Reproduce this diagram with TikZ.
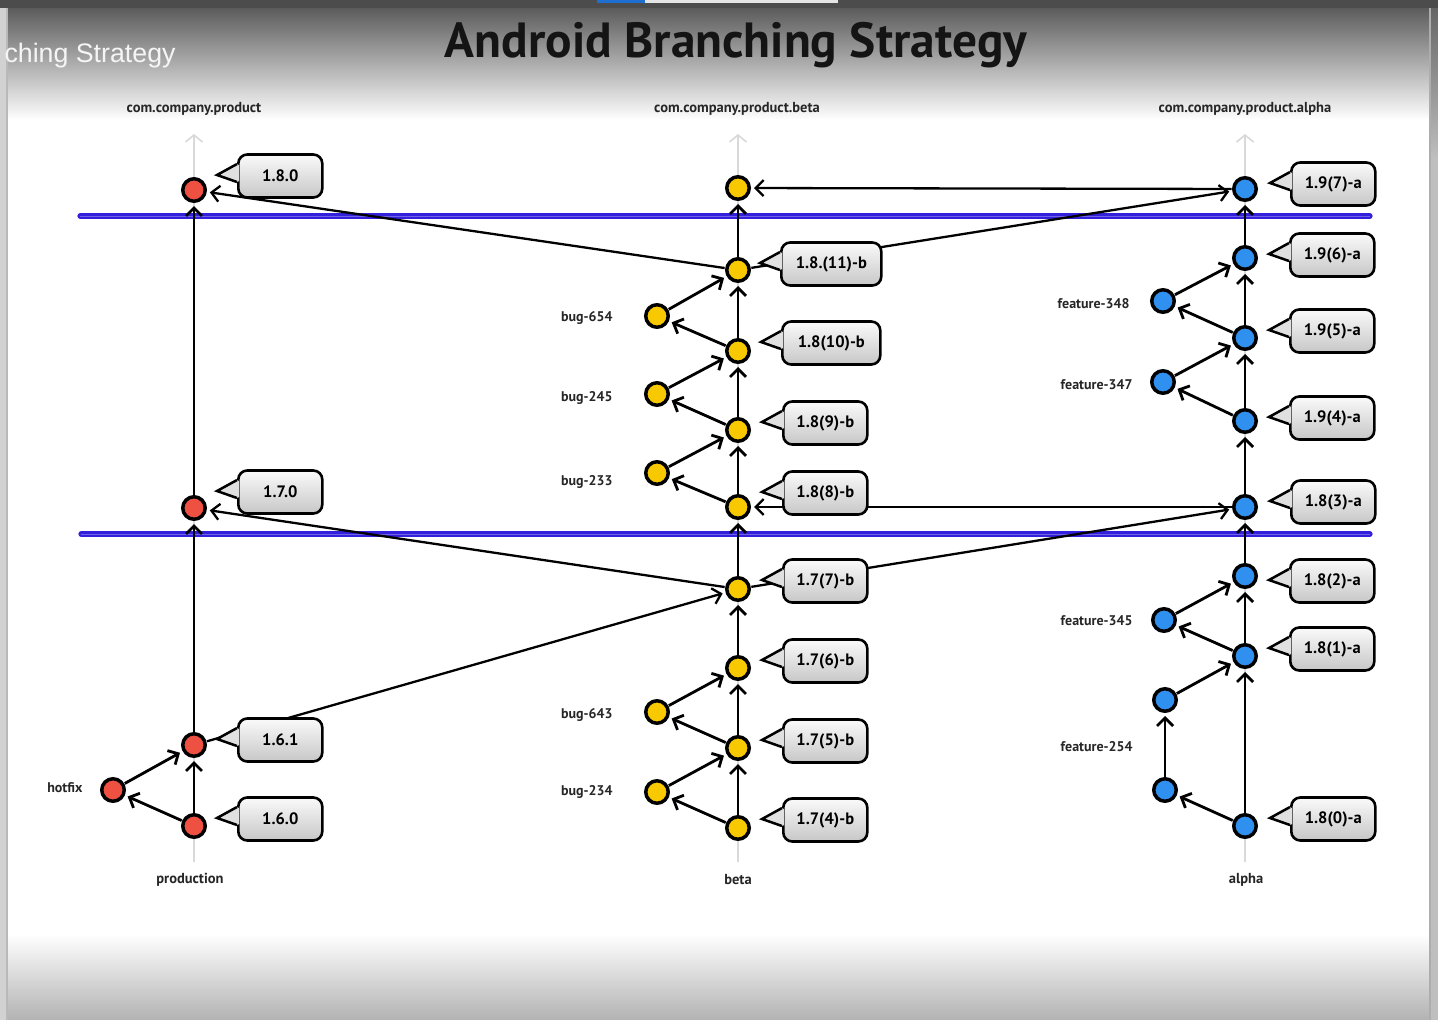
\documentclass[tikz,border=0pt]{standalone}
\usepackage{fontspec}
\setmainfont{PT Sans}
\newfontfamily\overlayfont{Liberation Sans}
\usetikzlibrary{arrows.meta,calc}
\definecolor{cred}{HTML}{EE5042}
\definecolor{cyel}{HTML}{F8C800}
\definecolor{cblu}{HTML}{3090F0}
\definecolor{cmark}{HTML}{3320DC}
\definecolor{frame}{HTML}{4C4C4C}
\definecolor{ytblue}{HTML}{1E6FD0}
\tikzset{
  dot/.style={circle,minimum size=22.5pt,inner sep=0pt,draw=black,line width=3.5pt},
  dotR/.style={dot,fill=cred},
  dotY/.style={dot,fill=cyel},
  dotB/.style={dot,fill=cblu},
  edge/.style={draw=black,line width=2.8pt,-{Straight Barb[length=8pt,width=16pt]},shorten >=3pt,shorten <=0.5pt},
  axis/.style={draw=gray!30,line width=1.6pt},
  axistip/.style={axis,-{Straight Barb[length=7pt,width=17pt]}},
  marker/.style={draw=cmark,line width=5.2pt,line cap=round},
  cbox/.style={anchor=west,rounded corners=9pt,draw=black,line width=2.6pt,top color=gray!4,bottom color=gray!44,minimum height=43pt,minimum width=84pt,inner xsep=11pt,font=\bfseries\fontsize{16.5}{16.5}\selectfont},
  collab/.style={font=\bfseries\fontsize{14.5}{15}\selectfont,text=black!85},
  brlab/.style={font=\bfseries\fontsize{14}{15}\selectfont,text=black!85,anchor=east},
}
\newcommand\mycallout[4][]{%
  \node[cbox,#1] (#2) at (#3) {#4};
  \fill[gray!24] ($(#2.west)+(2,-11)$) -- ($(#2.west)+(0,-12)$) -- ($(#2.west)+(-20,-1)$) -- ($(#2.west)+(0,6)$) -- ($(#2.west)+(2,5)$) -- cycle;
  \draw[line width=2.5pt,line join=miter] ($(#2.west)+(0,-12)$) -- ($(#2.west)+(-20,-1)$) -- ($(#2.west)+(0,6)$);
}
\begin{document}
\begin{tikzpicture}[x=1pt,y=-1pt]
\useasboundingbox (0,0) rectangle (1438,1020);
% ---------- background / frame
\fill[frame] (0,0) rectangle (1438,1020);
\fill[ytblue] (597,0) rectangle (645,2.5);
\fill[white!90!black] (645,0) rectangle (838,2.5);
\fill[gray!35] (0,8) rectangle (8,1020);
\fill[gray!55] (6,8) rectangle (8,1020);
\shade[top color=black!64, bottom color=white] (8,8) rectangle (1430,120);
\fill[white] (8,119) rectangle (1430,935);
\shade[top color=white, bottom color=black!30] (8,934) rectangle (1430,1020);
\shade[top color=black!60, bottom color=black!25] (1430,8) rectangle (1438,160);
\fill[black!25] (1430,159) rectangle (1438,1020);
\fill[black!32] (1429,8) rectangle (1430.5,1020);
% ---------- titles
\node[anchor=base west,text=white!96!black] (overlay) at (1,62) {\resizebox{171pt}{!}{\overlayfont ching Strategy}};
\node[anchor=base,text=black!92] (title) at (736,57) {\resizebox{582pt}{!}{\bfseries Android Branching Strategy}};
\node[collab] (hprod) at (194,109) {com.company.product};
\node[collab] (hbeta) at (737,109) {com.company.product.beta};
\node[collab] (halpha) at (1245,109) {com.company.product.alpha};
\node[collab] (fprod) at (190,880) {production};
\node[collab] (fbeta) at (738,880) {beta};
\node[collab] (falpha) at (1246,880) {alpha};
% ---------- axes
\coordinate (pt) at (194,134); \coordinate (pb) at (194,862);
\coordinate (bt) at (738,134); \coordinate (bb) at (738,862);
\coordinate (at) at (1245,134); \coordinate (ab) at (1245,862);
\draw[axistip] (pb) -- (pt);
\draw[axistip] (bb) -- (bt);
\draw[axistip] (ab) -- (at);
% ---------- release markers
\coordinate (m1a) at (80,216); \coordinate (m1b) at (1370,216);
\coordinate (m2a) at (81,534); \coordinate (m2b) at (1370,534);
\draw[marker] (m1a) -- (m1b);
\draw[marker] (m2a) -- (m2b);
\draw[draw=cmark!70,line width=0.8pt] (m1a) -- (m1b);
\draw[draw=cmark!70,line width=0.8pt] (m2a) -- (m2b);
% ---------- production
\node[dotR] (p180) at (194,190) {};
\node[dotR] (p170) at (194,508) {};
\node[dotR] (p161) at (194,745) {};
\node[dotR] (p160) at (194,826) {};
\node[dotR] (phf) at (113,790) {};
% ---------- beta
\node[dotY] (bT) at (738,188) {};
\node[dotY] (b11) at (738,270) {};
\node[dotY] (b10) at (738,351) {};
\node[dotY] (b9) at (738,430) {};
\node[dotY] (b8) at (738,507) {};
\node[dotY] (b7) at (738,589) {};
\node[dotY] (b6) at (738,668) {};
\node[dotY] (b5) at (738,748) {};
\node[dotY] (b4) at (738,828) {};
\node[dotY] (g654) at (657,316) {};
\node[dotY] (g245) at (657,394) {};
\node[dotY] (g233) at (657,473) {};
\node[dotY] (g643) at (657,712) {};
\node[dotY] (g234) at (657,792) {};
% ---------- alpha
\node[dotB] (a7) at (1245,189) {};
\node[dotB] (a6) at (1245,258) {};
\node[dotB] (a5) at (1245,338) {};
\node[dotB] (a4) at (1245,421) {};
\node[dotB] (a3) at (1245,507) {};
\node[dotB] (a2) at (1245,576) {};
\node[dotB] (a1) at (1245,656) {};
\node[dotB] (a0) at (1245,826) {};
\node[dotB] (f348) at (1163,301) {};
\node[dotB] (f347) at (1163,382) {};
\node[dotB] (f345) at (1164,620) {};
\node[dotB] (f254t) at (1165,700) {};
\node[dotB] (f254b) at (1165,790) {};
% ---------- edges: production
\draw[edge] (p160) -- (p161);
\draw[edge] (p161) -- (p170);
\draw[edge] (p170) -- (p180);
\draw[edge] (p160) -- (phf);
\draw[edge] (phf) -- (p161);
% ---------- edges: beta
\draw[edge] (b4) -- (b5);
\draw[edge] (b5) -- (b6);
\draw[edge] (b6) -- (b7);
\draw[edge] (b7) -- (b8);
\draw[edge] (b8) -- (b9);
\draw[edge] (b9) -- (b10);
\draw[edge] (b10) -- (b11);
\draw[edge] (b11) -- (bT);
\draw[edge] (b4) -- (g234);
\draw[edge] (g234) -- (b5);
\draw[edge] (b5) -- (g643);
\draw[edge] (g643) -- (b6);
\draw[edge] (b8) -- (g233);
\draw[edge] (g233) -- (b9);
\draw[edge] (b9) -- (g245);
\draw[edge] (g245) -- (b10);
\draw[edge] (b10) -- (g654);
\draw[edge] (g654) -- (b11);
% ---------- edges: alpha
\draw[edge] (a0) -- (a1);
\draw[edge] (a1) -- (a2);
\draw[edge] (a2) -- (a3);
\draw[edge] (a3) -- (a4);
\draw[edge] (a4) -- (a5);
\draw[edge] (a5) -- (a6);
\draw[edge] (a6) -- (a7);
\draw[edge] (a0) -- (f254b);
\draw[edge] (f254b) -- (f254t);
\draw[edge] (f254t) -- (a1);
\draw[edge] (a1) -- (f345);
\draw[edge] (f345) -- (a2);
\draw[edge] (a4) -- (f347);
\draw[edge] (f347) -- (a5);
\draw[edge] (a5) -- (f348);
\draw[edge] (f348) -- (a6);
% ---------- cross-column edges
\draw[edge,line width=2.3pt] (p161) -- (b7);
\draw[edge,line width=2.3pt] (b7) -- (p170);
\draw[edge,line width=2.3pt] (b7) -- (a3);
\draw[edge,line width=2.3pt] (a3) -- (b8);
\draw[edge,line width=2.3pt] (b11) -- (p180);
\draw[edge,line width=2.3pt] (b11) -- (a7);
\draw[edge,line width=2.3pt] (a7) -- (bT);
% ---------- callouts
\mycallout{k180}{237,176}{1.8.0}
\mycallout{k170}{237,492}{1.7.0}
\mycallout{k161}{237,740}{1.6.1}
\mycallout{k160}{237,819}{1.6.0}
\mycallout[minimum width=100pt]{kb11}{780,264}{1.8.(11)-b}
\mycallout[minimum width=98pt]{kb10}{781,343}{1.8(10)-b}
\mycallout{kb9}{782,423}{1.8(9)-b}
\mycallout{kb8}{782,493}{1.8(8)-b}
\mycallout{kb7}{782,581}{1.7(7)-b}
\mycallout{kb6}{782,661}{1.7(6)-b}
\mycallout{kb5}{782,741}{1.7(5)-b}
\mycallout{kb4}{782,820}{1.7(4)-b}
\mycallout{ka7}{1290,184}{1.9(7)-a}
\mycallout{ka6}{1289,255}{1.9(6)-a}
\mycallout{ka5}{1289,331}{1.9(5)-a}
\mycallout{ka4}{1289,418}{1.9(4)-a}
\mycallout{ka3}{1290,502}{1.8(3)-a}
\mycallout{ka2}{1289,581}{1.8(2)-a}
\mycallout{ka1}{1289,649}{1.8(1)-a}
\mycallout{ka0}{1290,819}{1.8(0)-a}
% ---------- branch labels
\node[brlab] (lhf) at (86,788) {hotfix};
\node[brlab] (l654) at (616,318) {bug-654};
\node[brlab] (l245) at (616,398) {bug-245};
\node[brlab] (l233) at (616,482) {bug-233};
\node[brlab] (l643) at (616,715) {bug-643};
\node[brlab] (l234) at (616,792) {bug-234};
\node[brlab] (l348) at (1133,304) {feature-348};
\node[brlab] (l347) at (1136,385) {feature-347};
\node[brlab] (l345) at (1136,621) {feature-345};
\node[brlab] (l254) at (1136,747) {feature-254};
\end{tikzpicture}
\end{document}
